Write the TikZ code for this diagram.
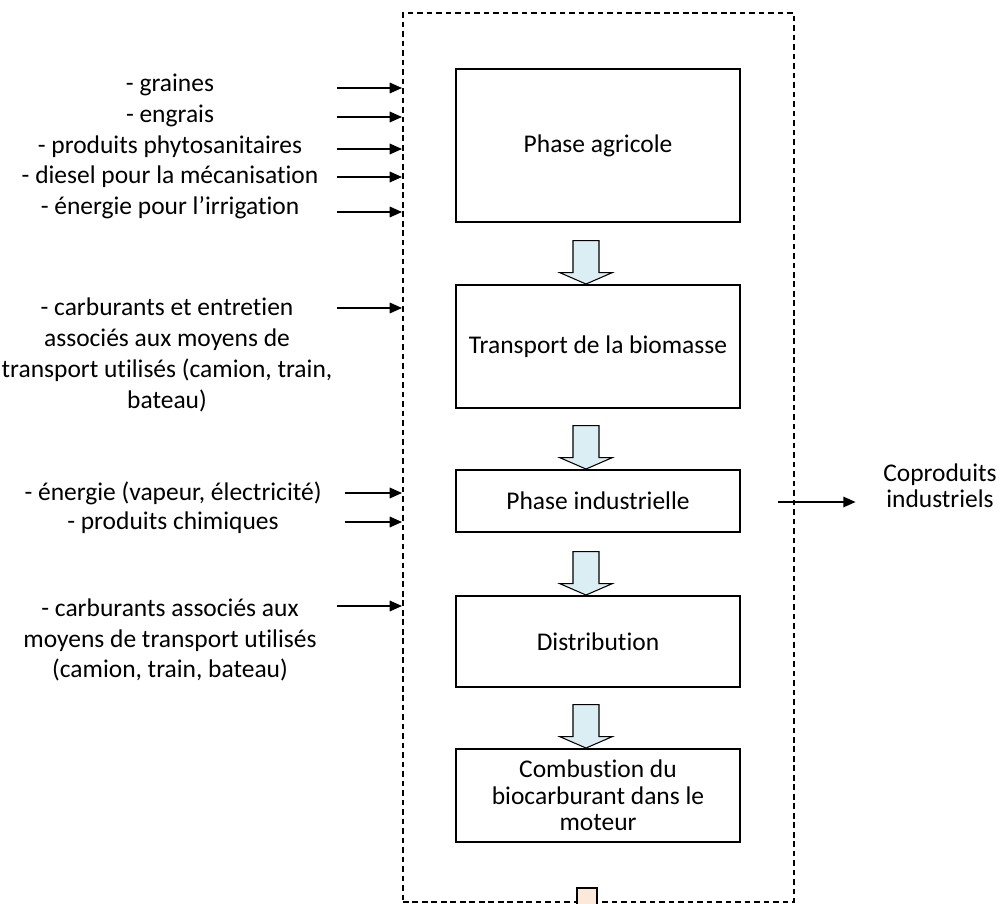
\documentclass[tikz,border=0pt]{standalone}
\usepackage{fontspec}
\setmainfont{Carlito}[Ligatures=NoCommon]
\usetikzlibrary{arrows.meta,positioning}
\definecolor{flowblue}{HTML}{DAEEF3}
\definecolor{exhaust}{HTML}{FDE9D9}

\begin{document}
\begin{tikzpicture}[
  stage/.style={draw, line width=1.1pt, minimum width=5.68cm, align=center, font=\fontsize{14.5}{15.2}\selectfont},
  inlist/.style={align=center, font=\fontsize{14.5}{17.5}\selectfont},
  inarrow/.style={line width=0.9pt, -{Triangle[length=7pt,width=6pt]}},
  sysbox/.style={draw, line width=1.1pt, dash pattern=on 3.2pt off 2.2pt},
  flowarrow/.style={draw, line width=0.6pt, fill=flowblue}
]
%\draw [help lines, step=1cm](0,0) grid (20,-18);
\useasboundingbox (0,0) rectangle (20.04,-18.08);

\node[sysbox, minimum width=7.82cm, minimum height=17.78cm] (sys) at (11.97,-9.15) {};

\node[stage, minimum height=3.06cm] (agri) at (11.96,-2.91) {Phase agricole};
\node[stage, minimum height=2.46cm] (trans) at (11.96,-6.93) {Transport de la biomasse};
\node[stage, minimum height=1.24cm] (indus) at (11.96,-10.02) {Phase industrielle};
\node[stage, minimum height=1.82cm] (distr) at (11.96,-12.83) {Distribution};
\node[stage, minimum height=1.86cm] (combu) at (11.96,-15.91) {Combustion du\\biocarburant dans le\\moteur};

\node[inlist] (inAgri) at (3.4,-2.93) {- graines\\- engrais\\- produits phytosanitaires\\- diesel pour la mécanisation\\- énergie pour l’irrigation};
\node[inlist] (inTrans) at (3.34,-7.1) {- carburants et entretien\\associés aux moyens de\\transport utilisés (camion, train,\\bateau)};
\node[inlist, font=\fontsize{14.5}{16.4}\selectfont] (inIndus) at (3.46,-10.15) {- énergie (vapeur, électricité)\\- produits chimiques};
\node[inlist] (inDistr) at (3.4,-12.8) {- carburants associés aux\\moyens de transport utilisés\\(camion, train, bateau)};
\node[align=center, font=\fontsize{14.5}{14.8}\selectfont] (copro) at (18.8,-9.72) {Coproduits\\industriels};

% inputs
\foreach \name/\x/\y in {a/6.74/-1.76, b/6.74/-2.34, c/6.74/-2.98, d/6.74/-3.54, e/6.74/-4.24, f/6.74/-6.16, g/6.9/-9.86, h/6.9/-10.44, i/6.74/-12.12}{
  \coordinate (src\name) at (\x,\y);
  \draw[inarrow] (src\name) -- (src\name -| sys.west);
}
\coordinate (srcOut) at (15.56,-10.04);
\draw[inarrow] (srcOut) -- ([xshift=-0.43cm]copro.west |- srcOut);

% block arrows
\foreach \stage in {trans,indus,distr,combu}
  \draw[flowarrow] ([xshift=-0.24cm]\stage.north) -- ++(-0.53,0.23) -- ++(0.27,0) -- ++(0,0.64) -- ++(0.52,0) -- ++(0,-0.64) -- ++(0.27,0) -- cycle;

\begin{scope}
\clip (0,0) rectangle (20.04,-18.08);
\draw[flowarrow, fill=exhaust] (11.54,-18.5) -- (11.54,-17.76) -- (11.94,-17.76) -- (11.94,-18.5);
\end{scope}
\end{tikzpicture}
\end{document}
